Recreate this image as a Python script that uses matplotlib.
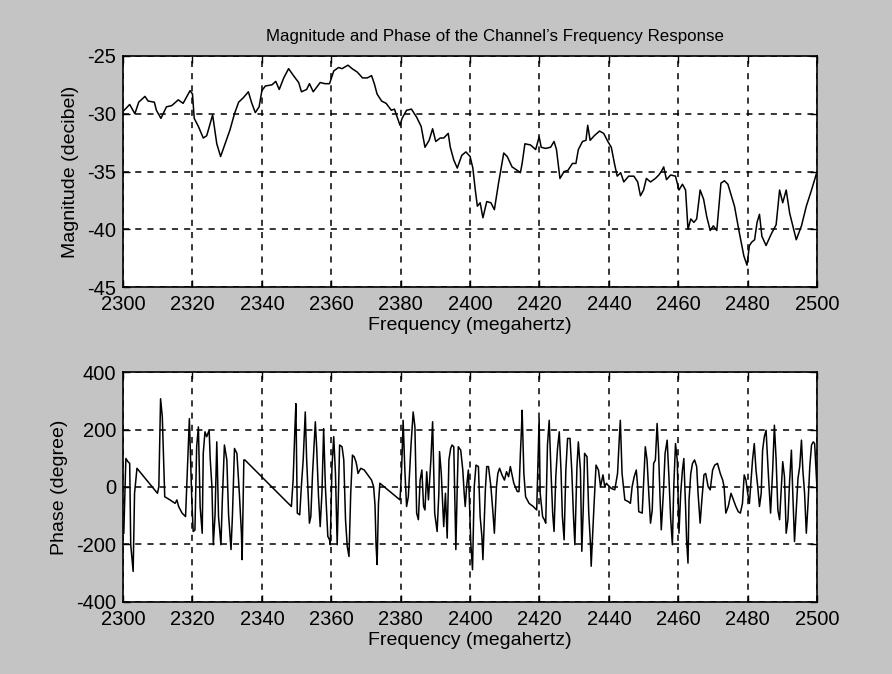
import numpy as np
import matplotlib
matplotlib.use("Agg")
import matplotlib.pyplot as plt

# magnitude trace
mag_freq = [2300.3, 2301.9, 2303.4, 2304.5, 2306.3, 2307.2, 2309.0, 2309.6, 2310.9, 2312.5,
            2314.0, 2315.9, 2317.3, 2319.3, 2320.0, 2320.5, 2321.7, 2323.1, 2324.1, 2325.8,
            2327.0, 2328.1, 2329.4, 2330.8, 2332.1, 2333.3, 2334.7, 2336.1, 2337.1, 2338.1,
            2339.2, 2340.0, 2341.0, 2342.9, 2344.0, 2345.0, 2346.3, 2347.7, 2349.1, 2350.6,
            2351.4, 2352.9, 2353.7, 2354.8, 2356.8, 2358.2, 2359.5, 2360.7, 2362.1, 2363.1,
            2364.8, 2366.0, 2367.5, 2369.0, 2370.4, 2371.6, 2372.4, 2373.2, 2374.5, 2375.8,
            2377.3, 2378.2, 2379.8, 2380.4, 2381.7, 2383.1, 2384.6, 2385.9, 2387.0, 2388.2,
            2389.2, 2390.1, 2391.4, 2392.4, 2393.7, 2394.3, 2395.3, 2396.3, 2397.6, 2398.8,
            2400.0, 2400.8, 2401.5, 2402.1, 2402.9, 2403.7, 2404.8, 2406.0, 2407.0, 2408.2,
            2409.7, 2410.7, 2412.1, 2413.6, 2414.5, 2415.0, 2415.8, 2417.4, 2418.9, 2419.9,
            2420.5, 2421.7, 2423.2, 2424.2, 2424.9, 2425.9, 2427.1, 2428.2, 2429.5, 2430.5,
            2431.2, 2432.4, 2433.4, 2433.9, 2434.6, 2435.8, 2437.3, 2438.5, 2439.7, 2440.7,
            2441.6, 2442.4, 2443.4, 2444.3, 2445.7, 2447.2, 2448.3, 2449.1, 2450.0, 2450.8,
            2452.0, 2453.4, 2454.4, 2455.1, 2455.8, 2456.6, 2457.8, 2459.2, 2460.2, 2461.2,
            2462.1, 2462.8, 2463.6, 2464.5, 2465.3, 2466.3, 2467.3, 2468.2, 2469.2, 2470.1,
            2471.1, 2472.3, 2473.3, 2474.3, 2475.2, 2476.2, 2477.6, 2478.9, 2479.8, 2480.5,
            2481.2, 2482.0, 2482.7, 2483.4, 2484.1, 2485.3, 2486.8, 2488.2, 2489.2, 2490.1,
            2491.1, 2492.1, 2494.0, 2495.5, 2496.9, 2498.4, 2500.0]
mag_db = [-29.7, -29.2, -30.0, -29.0, -28.5, -28.9, -29.0, -29.7, -30.4, -29.4,
          -29.3, -28.8, -29.1, -28.0, -28.3, -30.4, -31.1, -32.1, -31.9, -30.1,
          -32.6, -33.7, -32.6, -31.4, -30.0, -29.0, -28.6, -28.1, -29.1, -29.9,
          -29.4, -28.0, -27.6, -27.5, -27.2, -27.9, -26.9, -26.1, -26.7, -27.3,
          -28.1, -27.9, -27.4, -28.1, -27.3, -27.4, -27.4, -26.3, -26.0, -26.1,
          -25.8, -26.1, -26.4, -26.9, -26.9, -26.7, -27.4, -28.3, -28.9, -29.1,
          -29.7, -29.6, -31.0, -30.4, -29.7, -29.6, -30.3, -31.1, -32.9, -32.3,
          -31.3, -32.4, -32.1, -32.1, -31.7, -32.9, -34.0, -34.7, -33.6, -33.3,
          -33.7, -34.7, -36.6, -38.0, -37.7, -39.0, -37.6, -37.7, -38.3, -36.0,
          -33.4, -33.7, -34.6, -34.9, -35.1, -34.3, -32.6, -32.7, -33.1, -32.0,
          -32.9, -33.0, -32.9, -32.4, -33.1, -35.6, -35.0, -34.9, -34.3, -34.3,
          -33.1, -32.4, -32.3, -31.0, -32.3, -31.9, -31.5, -31.7, -32.4, -32.9,
          -34.3, -35.4, -35.1, -35.9, -35.4, -35.4, -35.9, -37.1, -36.6, -35.6,
          -35.9, -35.6, -35.3, -35.0, -34.6, -35.7, -35.3, -35.4, -36.6, -36.1,
          -36.6, -40.0, -39.1, -39.4, -39.1, -36.6, -37.4, -38.9, -40.1, -39.7,
          -40.1, -36.0, -35.8, -36.1, -37.0, -38.0, -40.3, -42.3, -43.1, -41.4,
          -41.1, -40.9, -39.4, -38.7, -40.6, -41.4, -40.4, -39.6, -36.6, -37.7,
          -36.6, -38.6, -40.9, -39.7, -38.0, -36.6, -35.0]

# phase trace
ph_freq = [2300.2, 2300.8, 2301.4, 2301.9, 2302.2, 2302.9, 2303.3, 2304.0, 2309.9, 2310.3,
           2310.8, 2311.3, 2312.0, 2313.5, 2315.0, 2315.5, 2316.0, 2317.0, 2318.0, 2318.8,
           2319.1, 2319.8, 2320.2, 2320.7, 2321.2, 2321.7, 2322.2, 2322.8, 2323.1, 2323.6,
           2324.1, 2324.8, 2325.1, 2325.6, 2326.0, 2326.5, 2327.0, 2327.5, 2328.2, 2328.6,
           2329.2, 2329.9, 2330.4, 2331.1, 2331.5, 2332.1, 2332.8, 2333.5, 2334.1, 2334.3,
           2334.8, 2335.1, 2348.5, 2349.0, 2349.5, 2349.8, 2350.2, 2350.9, 2351.4, 2351.9,
           2352.2, 2352.5, 2352.9, 2353.7, 2354.1, 2354.6, 2355.4, 2355.8, 2356.3, 2356.8,
           2357.3, 2357.8, 2358.3, 2359.0, 2359.5, 2359.7, 2360.2, 2360.7, 2361.2, 2361.7,
           2362.4, 2363.1, 2363.6, 2364.1, 2364.6, 2365.1, 2365.6, 2366.1, 2366.6, 2367.1,
           2367.4, 2367.7, 2368.5, 2369.5, 2370.9, 2371.6, 2372.2, 2372.6, 2372.9, 2373.2,
           2373.6, 2374.0, 2379.2, 2379.8, 2380.2, 2380.5, 2380.7, 2381.2, 2381.7, 2382.2,
           2383.0, 2383.6, 2384.1, 2384.6, 2385.1, 2385.6, 2386.1, 2386.6, 2387.0, 2387.5,
           2388.0, 2388.7, 2389.2, 2389.8, 2390.5, 2391.0, 2391.2, 2391.7, 2392.4, 2392.9,
           2393.4, 2393.9, 2394.4, 2394.8, 2395.3, 2395.9, 2396.3, 2396.6, 2397.3, 2397.9,
           2398.3, 2398.6, 2399.0, 2399.5, 2399.8, 2400.2, 2400.7, 2401.2, 2401.7, 2402.4,
           2402.9, 2403.4, 2403.7, 2404.4, 2404.8, 2405.3, 2406.0, 2406.6, 2407.0, 2407.6,
           2408.0, 2408.5, 2409.2, 2409.9, 2410.5, 2411.1, 2411.6, 2412.1, 2412.6, 2413.6,
           2414.1, 2414.5, 2414.8, 2415.0, 2415.5, 2416.0, 2417.0, 2418.2, 2419.2, 2419.7,
           2419.9, 2420.2, 2420.9, 2421.4, 2421.8, 2422.3, 2422.8, 2423.3, 2423.8, 2424.2,
           2424.7, 2425.2, 2425.7, 2426.2, 2426.6, 2427.1, 2427.6, 2428.1, 2428.8, 2429.3,
           2429.8, 2430.2, 2430.8, 2431.2, 2431.8, 2432.2, 2432.6, 2433.0, 2433.7, 2434.2,
           2434.7, 2434.9, 2435.7, 2436.3, 2437.0, 2437.6, 2438.3, 2438.8, 2439.3, 2439.7,
           2440.7, 2441.7, 2442.5, 2443.0, 2443.3, 2443.8, 2444.6, 2445.6, 2446.2, 2446.7,
           2447.3, 2447.9, 2448.3, 2448.6, 2449.6, 2450.2, 2450.5, 2451.0, 2451.5, 2452.0,
           2452.5, 2452.9, 2453.4, 2453.9, 2454.3, 2454.7, 2455.1, 2455.7, 2456.2, 2456.8,
           2457.3, 2457.8, 2458.3, 2458.7, 2459.2, 2459.7, 2460.2, 2460.7, 2461.2, 2461.6,
           2462.1, 2462.4, 2462.8, 2463.1, 2463.6, 2464.1, 2464.7, 2465.3, 2465.7, 2466.3,
           2466.8, 2467.4, 2467.9, 2468.6, 2469.2, 2469.9, 2470.5, 2471.3, 2472.1, 2472.8,
           2473.2, 2473.7, 2474.4, 2475.2, 2475.9, 2476.6, 2477.3, 2477.9, 2478.5, 2479.0,
           2479.5, 2480.0, 2480.5, 2481.0, 2481.4, 2481.9, 2482.4, 2482.9, 2483.4, 2483.9,
           2484.3, 2484.8, 2485.3, 2486.0, 2486.6, 2487.2, 2487.7, 2488.2, 2488.7, 2489.2,
           2489.7, 2490.1, 2490.6, 2491.1, 2491.6, 2492.1, 2492.6, 2493.0, 2493.5, 2494.0,
           2494.5, 2495.0, 2495.5, 2495.9, 2496.4, 2496.9, 2497.4, 2497.9, 2498.4, 2498.9,
           2499.3, 2499.8, 2500.0]
ph_deg = [-161, 99, 88, 82, -201, -294, -22, 65, -22, 1,
          307, 244, -34, -45, -57, -45, -68, -91, -103, 146,
          238, -45, -155, -150, 140, 209, -68, -161, 117, 192,
          175, 198, 99, 1, -201, -97, 157, -103, -201, -45,
          146, 94, -97, -218, -103, 134, 117, -22, -161, -253,
          94, 94, -68, 24, 198, 290, -91, -97, 7, 94,
          175, 261, 94, -126, -103, 47, 227, 134, -28, -138,
          -22, 203, 1, -172, -184, -201, 71, 175, 47, -201,
          146, 140, 94, -114, -207, -242, -22, 111, 105, 88,
          71, 47, 65, 59, 36, 24, 1, -63, -201, -270,
          -57, 13, -39, -45, 42, 146, 232, 59, -68, -34,
          151, 261, 209, -91, -114, 24, 59, -68, -80, 53,
          -45, 94, 227, -91, -155, -22, 123, 47, -138, -22,
          -178, 94, 134, 146, 140, -218, 1, 140, 128, 59,
          -22, -68, 1, 59, -45, -195, -288, 1, 76, 71,
          -103, -172, -253, -10, 71, 71, 1, -91, -161, 1,
          47, 65, 42, 24, 53, 36, 71, 42, 13, -16,
          -16, 117, 198, 267, 47, -34, -57, -68, -80, 140,
          238, -22, -103, -114, -126, 146, 232, 59, -91, -155,
          36, 134, 192, 59, -103, -184, 59, 169, 169, 59,
          -103, -201, 71, 157, 59, -224, -80, 117, 105, -91,
          -201, -276, -68, 76, 59, 1, 42, 1, 13, 7,
          -5, -10, 47, 169, 232, 47, -45, -51, -57, 1,
          36, 59, 1, -86, -91, 59, 140, 94, -22, -126,
          -80, 82, 94, 221, 128, -22, -149, -22, 117, 163,
          36, -109, -201, 1, 151, 94, -161, -22, 59, 99,
          -68, -184, -265, -45, 47, 82, 94, 71, -22, -126,
          -45, 42, 47, 1, -10, 59, 76, 82, 47, 24,
          1, -91, -68, -22, -45, -68, -86, -91, -57, 42,
          24, -22, -57, 24, 94, 151, 59, 1, -68, -22,
          128, 175, 197, 36, -91, 59, 215, 94, -80, -114,
          1, 88, 36, -161, -114, 24, 128, -22, -190, -80,
          30, 71, 163, 59, -22, -161, -57, 71, 146, 157,
          151, 36, -10]

mag_yticks = [-45, -40, -35, -30, -25]
ph_yticks = [-400, -200, 0, 200, 400]
xticks = [2300, 2320, 2340, 2360, 2380, 2400, 2420, 2440, 2460, 2480, 2500]

plt.rcParams['font.family'] = ['Liberation Sans', 'DejaVu Sans']
plt.rcParams['axes.unicode_minus'] = False
bg = '#c4c4c4'
fig = plt.figure(figsize=(8.92, 6.74), dpi=100, facecolor=bg)

ax1 = fig.add_axes([0.138, 0.574, 0.778, 0.343])
ax2 = fig.add_axes([0.138, 0.107, 0.778, 0.341])

ax1.plot(mag_freq, mag_db, color='black', lw=1.1)
ax2.plot(ph_freq, ph_deg, color='black', lw=1.1)

for ax, yt, ylim, ylab in [(ax1, mag_yticks, (-45, -25), 'Magnitude (decibel)'),
                            (ax2, ph_yticks, (-400, 400), 'Phase (degree)')]:
    ax.set_facecolor('white')
    ax.set_xlim(2300, 2500)
    ax.set_ylim(*ylim)
    ax.set_xticks(xticks)
    ax.set_yticks(yt)
    ax.grid(True, color='black', linestyle=(0, (4, 4)), linewidth=1.1)
    ax.tick_params(direction='in', top=True, right=True, labelsize=14.5,
                   length=5, width=1.0, pad=5, colors='black')
    ax.tick_params(axis='x', pad=6)
    for s in ax.spines.values():
        s.set_linewidth(1.2)
    ax.set_xlabel('Frequency (megahertz)', fontsize=14, labelpad=2)
    ax.set_ylabel(ylab, fontsize=14, labelpad=6)

# title sits a little right of the axes centre in the original
ax1.set_title("Magnitude and Phase of the Channel\u2019s Frequency Response",
              fontsize=12.2, pad=11, x=0.536)

fig.savefig('out.png', dpi=100, facecolor=bg)
